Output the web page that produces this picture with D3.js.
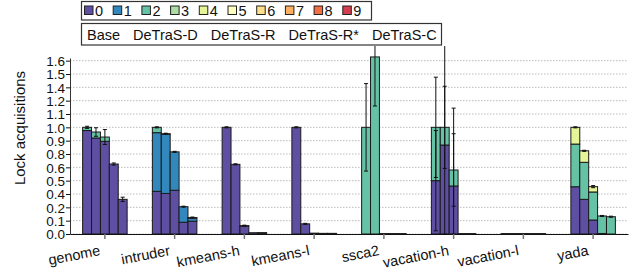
<!DOCTYPE html>
<html lang="en">
<head>
<meta charset="utf-8">
<title>Lock acquisitions</title>
<script src="https://cdn.jsdelivr.net/npm/d3@7"></script>
<style>
  body { margin: 0; background: #fff; font-family: "Liberation Sans", Arial, Helvetica, sans-serif; }
  svg text { font-family: "Liberation Sans", Arial, Helvetica, sans-serif; fill: #111; }
</style>
</head>
<body>
<script>
// benchmarks and configurations
var groups = ["genome", "intruder", "kmeans-h", "kmeans-l", "ssca2", "vacation-h", "vacation-l", "yada"];
var configs = ["Base", "DeTraS-D", "DeTraS-R", "DeTraS-R*", "DeTraS-C"];
var levels = ["0", "1", "2", "3", "4", "5", "6", "7", "8", "9"];
var colors = ["#5e4fa2", "#3288bd", "#66c2a5", "#abdda4", "#e6f598", "#ffffbf", "#fee08b", "#fdae61", "#f46d43", "#d53e4f"];

// stacked values, one row per level (0..9), one column per benchmark
var z = [0, 0, 0, 0, 0, 0, 0, 0];
var base = [
  [0.97, 0.40, 1.00, 1.00, 0, 0.50, 0, 0.443],
  [0, 0.55, 0, 0, 0, 0, 0, 0],
  [0.03, 0.05, 0, 0, 1.00, 0.50, 0, 0.40],
  z,
  [0, 0, 0, 0, 0, 0, 0, 0.157],
  z, z, z, z,
  [0, 0, 0, 0, 0, 0, 0.004, 0]
];
var detrasD = [
  [0.90, 0.38, 0.653, 0.095, 0, 0.834, 0, 0.325],
  [0, 0.556, 0, 0, 0, 0, 0, 0],
  [0.056, 0, 0, 0, 1.66, 0.166, 0, 0.347],
  z,
  [0, 0, 0, 0, 0, 0, 0, 0.108],
  z, z, z, z,
  [0, 0.004, 0, 0, 0, 0, 0.004, 0]
];
var detrasR = [
  [0.869, 0.41, 0.075, 0.008, 0, 0.45, 0, 0.131],
  [0, 0.36, 0, 0, 0, 0, 0, 0],
  [0.04, 0, 0, 0, 0, 0.15, 0, 0.263],
  z,
  [0, 0, 0, 0, 0, 0, 0, 0.05],
  z, z, z, z,
  [0, 0, 0.003, 0, 0.004, 0, 0.004, 0]
];
var detrasRs = [
  [0.656, 0.11, 0.012, 0.004, 0, 0, 0, 0.005],
  [0, 0.146, 0, 0, 0, 0, 0, 0],
  [0, 0, 0, 0, 0, 0, 0, 0.164],
  z, z, z, z, z, z,
  [0, 0, 0, 0.002, 0.004, 0.004, 0.004, 0]
];
var detrasC = [
  [0.325, 0.12, 0.01, 0.004, 0, 0, 0, 0],
  [0, 0.03, 0, 0, 0, 0, 0, 0],
  [0, 0, 0, 0, 0, 0, 0, 0.162],
  z, z, z, z, z, z,
  [0, 0.004, 0.002, 0.002, 0.004, 0.004, 0.004, 0]
];
var series = [base, detrasD, detrasR, detrasRs, detrasC];

// error on the total of each bar, and on the level-0 part
var errTotal = [
  [0.01, 0.005, 0.005, 0.005, 0.41, 0.47, 0, 0.005],
  [0.04, 0.005, 0.005, 0.005, 0.46, 0.385, 0, 0.005],
  [0.07, 0.005, 0.005, 0, 0, 0.34, 0, 0.01],
  [0.01, 0.005, 0, 0, 0, 0, 0, 0.005],
  [0.02, 0.005, 0, 0, 0, 0, 0, 0.005]
];
var errLevel0 = [
  [0, 0, 0, 0, 0, 0.47, 0, 0],
  [0, 0, 0, 0, 0, 0.95, 0, 0],
  [0, 0, 0, 0, 0, 0.73, 0, 0],
  [0, 0, 0, 0, 0, 0, 0, 0],
  [0, 0, 0, 0, 0, 0, 0, 0]
];

var yTicks = [0, 0.125, 0.25, 0.375, 0.5, 0.625, 0.75, 0.875, 1.0, 1.125, 1.25, 1.375, 1.5, 1.625];
var yTickLabels = ["0.0", "0.1", "0.2", "0.4", "0.5", "0.6", "0.8", "0.9", "1.0", "1.1", "1.2", "1.4", "1.5", "1.6"];

var w = 641, h = 280;
var mLeft = 70, mRight = 628, mTop = 58, mBottom = 234;

var svg = d3.select("body").append("svg")
  .attr("width", w).attr("height", h);

var x0 = d3.scaleBand().domain(groups).range([mLeft, mRight]);
var barW = 8.9;
var x1 = d3.scaleBand().domain(configs).range([0, barW * configs.length]);
var off = (x0.bandwidth() - x1.range()[1]) / 2;
var y = d3.scaleLinear().domain([0, 1.65]).range([mBottom, mTop]);

svg.append("defs").append("clipPath").attr("id", "plot")
  .append("rect").attr("x", mLeft).attr("y", 46).attr("width", mRight - mLeft + 10).attr("height", mBottom - 46);

// grid
svg.append("g").selectAll("line").data(yTicks).enter().append("line")
  .attr("x1", mLeft).attr("x2", mRight - 1)
  .attr("y1", function(d) { return y(d); }).attr("y2", function(d) { return y(d); })
  .attr("stroke", "#bbb").attr("stroke-width", 1).attr("stroke-dasharray", "1.5,1.5");

// bars
var bars = [];
series.forEach(function(s, ci) {
  groups.forEach(function(g, gi) {
    var acc = 0;
    s.forEach(function(row, li) {
      var v = row[gi];
      if (v > 0) {
        bars.push({ g: g, c: configs[ci], l: li, y0: acc, y1: acc + v });
        acc += v;
      }
    });
  });
});

svg.append("g").selectAll("rect").data(bars).enter().append("rect")
  .attr("x", function(d) { return x0(d.g) + off + x1(d.c); })
  .attr("width", x1.bandwidth())
  .attr("y", function(d) { return y(d.y1); })
  .attr("height", function(d) { return y(d.y0) - y(d.y1); })
  .attr("fill", function(d) { return colors[d.l]; })
  .attr("stroke", "#1a1a1a").attr("stroke-width", 1);

// error bars
var errs = [];
series.forEach(function(s, ci) {
  groups.forEach(function(g, gi) {
    var tot = d3.sum(s, function(row) { return row[gi]; });
    if (errTotal[ci][gi] > 0) errs.push({ g: g, c: configs[ci], v: tot, e: errTotal[ci][gi] });
    if (errLevel0[ci][gi] > 0) errs.push({ g: g, c: configs[ci], v: s[0][gi], e: errLevel0[ci][gi] });
  });
});

var eg = svg.append("g").attr("clip-path", "url(#plot)")
  .selectAll("g").data(errs).enter().append("g")
  .attr("transform", function(d) { return "translate(" + (x0(d.g) + off + x1(d.c) + x1.bandwidth() / 2) + ",0)"; })
  .attr("stroke", "#111").attr("stroke-width", 1);
eg.append("line")
  .attr("y1", function(d) { return y(d.v + d.e); })
  .attr("y2", function(d) { return y(Math.max(0, d.v - d.e)); });
eg.append("line").attr("x1", -2).attr("x2", 2)
  .attr("y1", function(d) { return y(d.v + d.e); }).attr("y2", function(d) { return y(d.v + d.e); });
eg.append("line").attr("x1", -2).attr("x2", 2)
  .attr("y1", function(d) { return y(Math.max(0, d.v - d.e)); }).attr("y2", function(d) { return y(Math.max(0, d.v - d.e)); });

// y axis
var yAxis = svg.append("g").attr("transform", "translate(" + mLeft + ",0)")
  .call(d3.axisLeft(y).tickValues(yTicks).tickSize(4).tickSizeOuter(0)
    .tickFormat(function(d, i) { return yTickLabels[i]; }));
yAxis.select(".domain").attr("stroke", "#333");
yAxis.selectAll(".tick line").attr("stroke", "#111");
yAxis.selectAll("text").attr("font-size", 13.5).attr("x", -5).attr("dy", "0.36em");

// x axis
var xAxis = svg.append("g").attr("transform", "translate(0," + mBottom + ")")
  .call(d3.axisBottom(x0).tickSize(5).tickSizeOuter(0).tickFormat(""));
xAxis.select(".domain").attr("stroke", "#111").attr("stroke-width", 1.2);
xAxis.selectAll(".tick line").attr("stroke", "#777").attr("stroke-width", 1.5);

svg.append("g").selectAll("text").data(groups).enter().append("text")
  .attr("transform", function(d) { return "translate(" + (x0(d) + x0.bandwidth() / 2 - 4) + ",255) rotate(-11)"; })
  .attr("text-anchor", "end")
  .attr("font-size", 14.5)
  .text(function(d) { return d; });

svg.append("text")
  .attr("transform", "translate(25,128) rotate(-90)")
  .attr("text-anchor", "middle")
  .attr("font-size", 15)
  .text("Lock acquisitions");

// legend: levels
var leg1 = svg.append("g");
leg1.append("rect").attr("x", 81.5).attr("y", 1.5).attr("width", 290).attr("height", 18.5)
  .attr("fill", "#fff").attr("stroke", "#333").attr("stroke-width", 1.2);
var li = leg1.selectAll("g.item").data(levels).enter().append("g")
  .attr("transform", function(d, i) { return "translate(" + (84.5 + i * 28.7) + ",0)"; });
li.append("rect").attr("x", 0).attr("y", 6).attr("width", 8.5).attr("height", 8.5)
  .attr("fill", function(d, i) { return colors[i]; }).attr("stroke", "#222").attr("stroke-width", 1);
li.append("text").attr("x", 10.5).attr("y", 16).attr("font-size", 14.5).text(function(d) { return d; });

// legend: configurations
var leg2 = svg.append("g");
leg2.append("rect").attr("x", 81.5).attr("y", 23.5).attr("width", 360).attr("height", 21.5)
  .attr("fill", "#fff").attr("stroke", "#333").attr("stroke-width", 1.2);
var cx = 87;
configs.forEach(function(c) {
  var t = leg2.append("text").attr("x", cx).attr("y", 39.5).attr("font-size", 14.5).text(c);
  cx += t.node().getComputedTextLength() + 13;
});
</script>
</body>
</html>
